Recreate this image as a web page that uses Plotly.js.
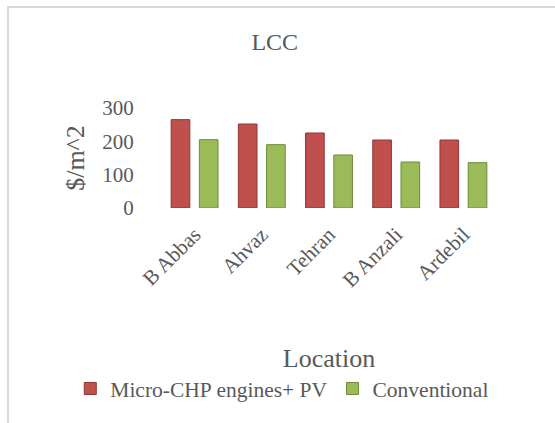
<!DOCTYPE html>
<html>
<head>
<meta charset="utf-8">
<script src="https://cdn.plot.ly/plotly-3.0.1.min.js"></script>
<style>
html,body{margin:0;padding:0;background:#fff;}
#wrap{position:relative;width:555px;height:423px;}
#frame{position:absolute;left:7px;top:6px;width:560px;height:430px;border-top:2px solid #d9d9d9;border-left:2px solid #d9d9d9;}
#chart{position:absolute;left:0;top:0;width:555px;height:423px;}
</style>
</head>
<body>
<div id="wrap"><div id="frame"></div><div id="chart"></div></div>
<script>
var categories = ["B Abbas", "Ahvaz", "Tehran", "B Anzali", "Ardebil"];
var chpPV = [265, 252, 225, 204, 204];
var conventional = [205, 190, 159, 138, 136];
var seriesNames = ["Micro-CHP engines+ PV", "Conventional"];
var yTicks = [0, 100, 200, 300];

var font = "'Liberation Serif', serif";
var grey = "#595959";

var traces = [
  {type:"bar", x:categories, y:chpPV, name:seriesNames[0],
   marker:{color:"#C0504D", line:{color:"#8f3431", width:1}}},
  {type:"bar", x:categories, y:conventional, name:seriesNames[1],
   marker:{color:"#9BBB59", line:{color:"#6f8a3a", width:1}}}
];

var layout = {
  width:555, height:423,
  paper_bgcolor:"rgba(0,0,0,0)", plot_bgcolor:"rgba(0,0,0,0)",
  margin:{l:161, r:58, t:108, b:215, pad:0},
  font:{family:font, color:grey},
  title:{text:"LCC", font:{family:font, size:24, color:grey}, x:0.495, xref:"container", xanchor:"center", y:1-42/423, yanchor:"middle"},
  barmode:"group", bargap:0.16, bargroupgap:0.34,
  showlegend:true,
  legend:{orientation:"h", x:-0.27, xanchor:"left", y:-1.6, yanchor:"top",
          font:{family:font, size:21.5, color:grey}, itemwidth:30, tracegroupgap:0, traceorder:"normal"},
  xaxis:{type:"category", tickangle:-45, showgrid:false, zeroline:false, showline:false,
         tickfont:{family:font, size:21, color:grey}, ticks:"outside", ticklen:5, tickcolor:"rgba(0,0,0,0)",
         title:{text:"Location", font:{family:font, size:26, color:grey}, standoff:57}},
  yaxis:{range:[0,300], tickvals:yTicks, showgrid:false, zeroline:false, showline:false,
         tickfont:{family:font, size:21, color:grey}, ticks:"outside", ticklen:22, tickcolor:"rgba(0,0,0,0)",
         title:{text:"$/m^2", font:{family:font, size:26, color:grey}, standoff:10}}
};

Plotly.newPlot("chart", traces, layout, {displayModeBar:false, staticPlot:true});
</script>
</body>
</html>
